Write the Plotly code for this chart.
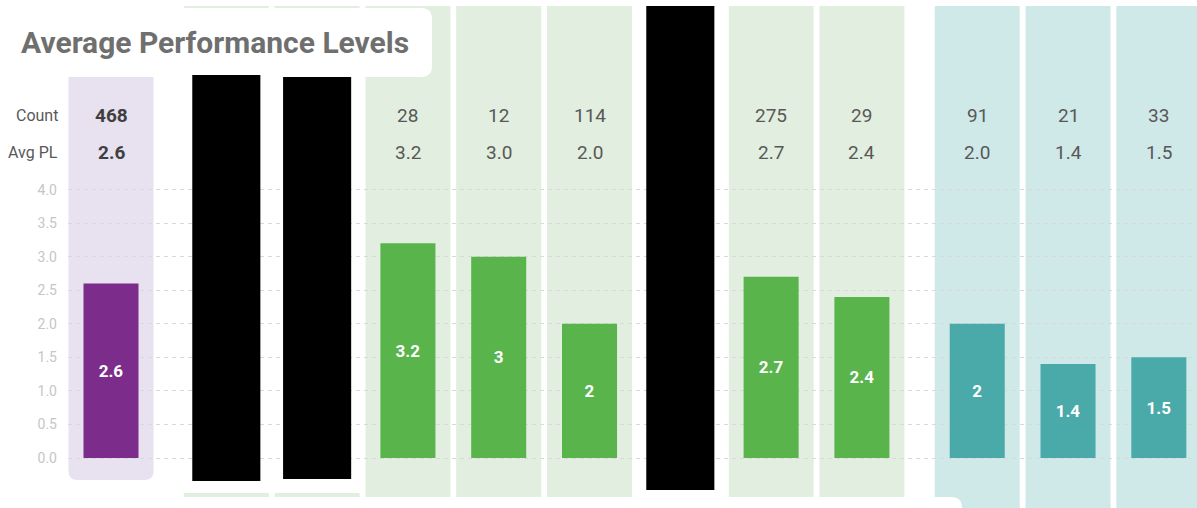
import plotly.graph_objects as go

# ---- data -------------------------------------------------------------
# Columns from left to right; group 0 = all students, 1 = green set, 2 = teal set
groups = [0, 1, 1, 1, 1, 1, 1, 1, 1, 2, 2, 2]
counts = [468, None, None, 28, 12, 114, None, 275, 29, 91, 21, 33]
avg_pl = [2.6, None, None, 3.2, 3.0, 2.0, None, 2.7, 2.4, 2.0, 1.4, 1.5]
redacted = [False, True, True, False, False, False, True, False, False, False, False, False]
y_ticks = [0.0, 0.5, 1.0, 1.5, 2.0, 2.5, 3.0, 3.5, 4.0]
row_labels = ["Count", "Avg PL"]
title_text = "Average Performance Levels"

# ---- styling / layout constants ----------------------------------------
W, H = 1197, 508
LEFT = 68
BAR_COLORS = ["#7c2d8c", "#58b44b", "#4aa9a9"]
STRIP_COLORS = ["#e8e1ef", "#e2eedf", "#cfe8e8"]
TEXT_GRAY = "#585858"
GROUP_GAP = 0.27
BAR_WIDTH = 0.606
STRIP_HALF = 0.468
PX_PER_SLOT = 90.8
FIRST_CENTER_PX = 111
PX_PER_UNIT = 67.1
ZERO_PX = 458


def y_px(py):
    """Screen row (from top) -> y value."""
    return (ZERO_PX - py) / PX_PER_UNIT


def paper_x(px):
    return (px - LEFT) / (W - LEFT)


def paper_y(py):
    return 1 - py / H


def rounded_path(x0, x1, y0, y1, rx, ry, corners=("tl", "tr", "br", "bl")):
    """Rectangle path (y1 top, y0 bottom) with optional rounded corners."""
    rtl = (rx, ry) if "tl" in corners else (0, 0)
    rtr = (rx, ry) if "tr" in corners else (0, 0)
    rbr = (rx, ry) if "br" in corners else (0, 0)
    rbl = (rx, ry) if "bl" in corners else (0, 0)
    p = f"M {x0 + rtl[0]},{y1} L {x1 - rtr[0]},{y1} "
    p += f"Q {x1},{y1} {x1},{y1 - rtr[1]} "
    p += f"L {x1},{y0 + rbr[1]} Q {x1},{y0} {x1 - rbr[0]},{y0} "
    p += f"L {x0 + rbl[0]},{y0} Q {x0},{y0} {x0},{y0 + rbl[1]} "
    p += f"L {x0},{y1 - rtl[1]} Q {x0},{y1} {x0 + rtl[0]},{y1} Z"
    return p


x_pos = [i + GROUP_GAP * g for i, g in enumerate(groups)]

fig = go.Figure()

bar_y = [None if r else v for v, r in zip(avg_pl, redacted)]
fig.add_trace(go.Bar(
    x=x_pos,
    y=bar_y,
    width=BAR_WIDTH,
    marker=dict(color=[BAR_COLORS[g] for g in groups], line=dict(width=0)),
    text=[("" if v is None else f"{v:g}") for v in bar_y],
    textposition="inside",
    insidetextanchor="middle",
    textangle=0,
    textfont=dict(family="Roboto", size=17, color="white", weight="bold"),
    hoverinfo="skip",
))

shapes = []

# column background strips
strip_extent = {0: (77, 480), 1: (6, 497), 2: (6, 530)}
for x, g in zip(x_pos, groups):
    top_px, bot_px = strip_extent[g]
    x0, x1 = x - STRIP_HALF, x + STRIP_HALF
    y1, y0 = y_px(top_px), y_px(bot_px)
    if g == 0:
        shapes.append(dict(
            type="path", xref="x", yref="y", layer="below",
            path=rounded_path(x0, x1, y0, y1, 9 / PX_PER_SLOT, 9 / PX_PER_UNIT,
                              corners=("bl", "br")),
            fillcolor=STRIP_COLORS[g], line=dict(width=0)))
    else:
        shapes.append(dict(
            type="rect", xref="x", yref="y", layer="below",
            x0=x0, x1=x1, y0=y0, y1=y1,
            fillcolor=STRIP_COLORS[g], line=dict(width=0)))

# blanked area around the blacked-out columns (gridlines stay on top)
blank_rows = {1: (10, 493), 2: (10, 493), 6: (0, 500)}
for i, r in enumerate(redacted):
    if r:
        top_px, bot_px = blank_rows[i]
        shapes.append(dict(
            type="rect", xref="x", yref="y", layer="below",
            x0=x_pos[i] - 0.53, x1=x_pos[i] + 0.53,
            y0=y_px(bot_px), y1=y_px(top_px),
            fillcolor="white", line=dict(width=0)))

# white tab along the bottom edge
tab_right = (962 - FIRST_CENTER_PX) / PX_PER_SLOT
shapes.append(dict(
    type="path", xref="x", yref="y", layer="below",
    path=rounded_path(-1, tab_right, y_px(540), y_px(497),
                      11 / PX_PER_SLOT, 11 / PX_PER_UNIT, corners=("tr",)),
    fillcolor="white", line=dict(width=0)))

# title card
shapes.append(dict(
    type="path", xref="paper", yref="paper", layer="above",
    path=rounded_path(paper_x(5), paper_x(432), paper_y(77), paper_y(8),
                      11 / (W - LEFT), 11 / H),
    fillcolor="white", line=dict(width=0)))

# blacked-out columns
redaction_rows = {1: (75, 481), 2: (77, 479), 6: (6, 490)}
for i, r in enumerate(redacted):
    if r:
        top_px, bot_px = redaction_rows[i]
        shapes.append(dict(
            type="rect", xref="x", yref="y", layer="above",
            x0=x_pos[i] - 0.375, x1=x_pos[i] + 0.375,
            y0=y_px(bot_px), y1=y_px(top_px),
            fillcolor="black", line=dict(width=0)))

annotations = []
annotations.append(dict(
    text=f"<b>{title_text}</b>", xref="paper", yref="paper",
    x=paper_x(19), y=paper_y(43), xanchor="left", yanchor="middle",
    showarrow=False, font=dict(family="Roboto", size=30, color="#6f6f6f")))

row_py = [115, 152]
for lbl, py in zip(row_labels, row_py):
    annotations.append(dict(
        text=lbl, xref="paper", yref="paper", x=paper_x(60), y=paper_y(py),
        xanchor="right", yanchor="middle", showarrow=False,
        font=dict(family="Roboto", size=16, color=TEXT_GRAY)))

for x, g, c, a, r in zip(x_pos, groups, counts, avg_pl, redacted):
    if r:
        continue
    for val, py in zip([f"{c}", f"{a:.1f}"], row_py):
        annotations.append(dict(
            text=f"<b>{val}</b>" if g == 0 else val,
            xref="x", yref="paper", x=x, y=paper_y(py),
            xanchor="center", yanchor="middle", showarrow=False,
            font=dict(family="Roboto", size=19,
                      color="#3f3f3f" if g == 0 else TEXT_GRAY)))

fig.update_layout(
    width=W, height=H,
    margin=dict(l=LEFT, r=0, t=0, b=0),
    paper_bgcolor="white", plot_bgcolor="white",
    showlegend=False,
    xaxis=dict(
        range=[(LEFT - FIRST_CENTER_PX) / PX_PER_SLOT,
               (W - FIRST_CENTER_PX) / PX_PER_SLOT],
        visible=False, fixedrange=True),
    yaxis=dict(
        range=[y_px(H), y_px(0)],
        tickvals=y_ticks, ticktext=[f"{v:.1f}" for v in y_ticks],
        tickfont=dict(family="Roboto", size=14, color="#c6c6c6"),
        ticklabelstandoff=10,
        showgrid=True, gridcolor="#d9d9d9", griddash="4px,4px", gridwidth=1,
        zeroline=False, showline=False, fixedrange=True),
    shapes=shapes,
    annotations=annotations,
)

fig.write_html("out.html")
